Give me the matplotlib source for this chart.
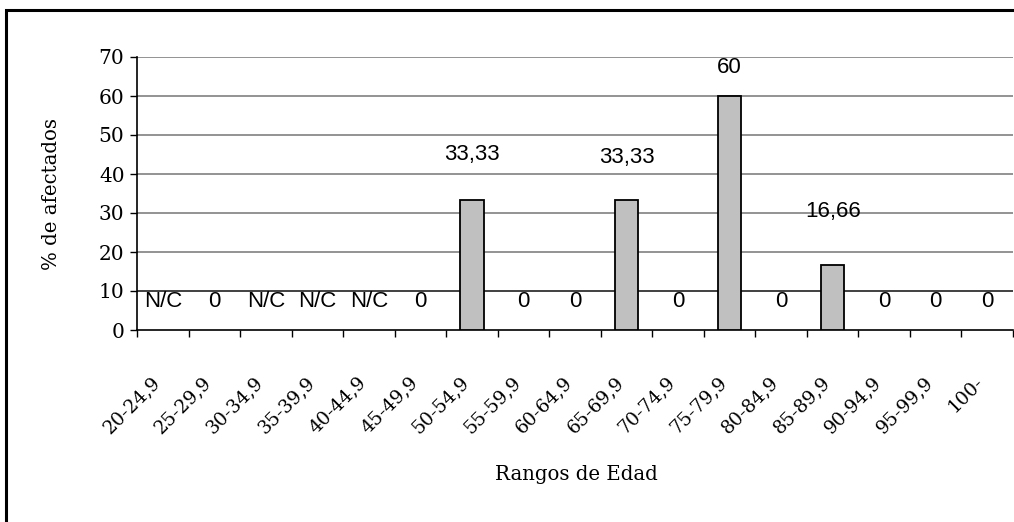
import matplotlib.pyplot as plt
from matplotlib.patches import Rectangle
import matplotlib.transforms as mtransforms
import numpy as np

# Data
rangos = ["20-24,9", "25-29,9", "30-34,9", "35-39,9", "40-44,9", "45-49,9",
          "50-54,9", "55-59,9", "60-64,9", "65-69,9", "70-74,9", "75-79,9",
          "80-84,9", "85-89,9", "90-94,9", "95-99,9", "100-"]
afectados = [0, 0, 0, 0, 0, 0, 33.33, 0, 0, 33.33, 0, 60, 0, 16.66, 0, 0, 0]
etiquetas = ["N/C", "0", "N/C", "N/C", "N/C", "0", "33,33", "0", "0", "33,33",
             "0", "60", "0", "16,66", "0", "0", "0"]

# label heights (layout only, in data units)
label_y = [7.4, 7.4, 7.4, 7.4, 7.4, 7.4, 45, 7.4, 7.4, 44.2, 7.4, 67.2, 7.4, 30.5, 7.4, 7.4, 7.4]

fig = plt.figure(figsize=(10.14, 5.22), dpi=100)
ax = fig.add_axes([137 / 1014, 1 - 330 / 522, 876 / 1014, 273 / 522])

x = np.arange(len(rangos))
lw = [1.3 if v > 0 else 0 for v in afectados]
ax.bar(x, afectados, width=0.45, color="#C0C0C0", edgecolor="black", linewidth=lw, zorder=3)

for xi, ly, txt in zip(x, label_y, etiquetas):
    ax.text(xi, ly, txt, ha="center", va="center", fontsize=16,
            family="Liberation Sans", zorder=4)

ax.set_xlim(-0.5, len(rangos) - 0.5)
ax.set_ylim(0, 70)
ax.set_yticks(range(0, 71, 10))
for yv in range(20, 71, 10):
    ax.axhline(yv, color="#808080", linewidth=1.2, zorder=1)
ax.axhline(10, color="#202020", linewidth=1.2, zorder=1)

ax.spines["top"].set_visible(False)
ax.spines["right"].set_visible(False)
ax.spines["left"].set_linewidth(1.2)
ax.spines["bottom"].set_linewidth(1.2)

# y ticks
ax.tick_params(axis="y", direction="out", length=5, width=1, pad=4, labelsize=14.5)
for lab in ax.get_yticklabels():
    lab.set_family("DejaVu Serif")

# x ticks between categories, labels at centers
ax.set_xticks(np.arange(-0.5, len(rangos), 1))
ax.set_xticklabels([])
ax.set_xticks(x, minor=True)
ax.set_xticklabels(rangos, minor=True, rotation=45, ha="right",
                   rotation_mode="anchor", fontsize=13.5, family="DejaVu Serif")
ax.tick_params(axis="x", which="major", direction="out", length=5, width=1)
ax.tick_params(axis="x", which="minor", length=0, pad=31)
offset = mtransforms.ScaledTranslation(-12 / 100, 0, fig.dpi_scale_trans)
for lab in ax.get_xticklabels(minor=True):
    lab.set_transform(lab.get_transform() + offset)

fig.text(52 / 1014, 1 - 194 / 522, "% de afectados", rotation=90, ha="center",
         va="center", fontsize=14.2, family="DejaVu Serif")
fig.text(576 / 1014, 1 - 475 / 522, "Rangos de Edad", ha="center", va="center",
         fontsize=14.2, family="DejaVu Serif")

# figure border (only left and top visible in the crop)
fig.patches.append(Rectangle((6 / 1014, -0.1), 1.2, 1 - 10 / 522 + 0.1,
                             transform=fig.transFigure, fill=False,
                             edgecolor="black", linewidth=2.2))

plt.savefig("out.png", dpi=100)
